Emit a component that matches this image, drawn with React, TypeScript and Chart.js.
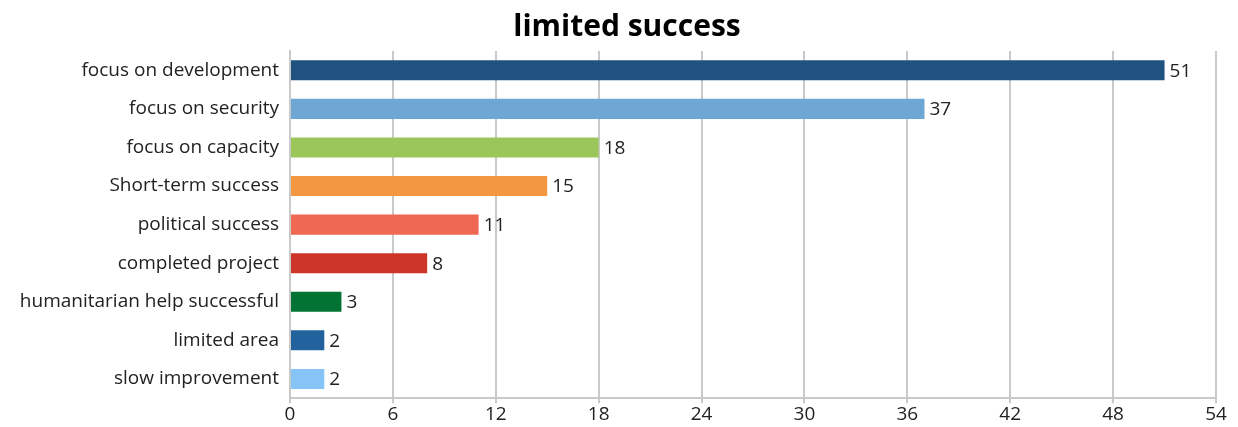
import React, { useEffect, useRef } from "react";
import { Chart, registerables } from "chart.js";

Chart.register(...registerables);

const categories = [
  "focus on development",
  "focus on security",
  "focus on capacity",
  "Short-term success",
  "political success",
  "completed project",
  "humanitarian help successful",
  "limited area",
  "slow improvement",
];
const values = [51, 37, 18, 15, 11, 8, 3, 2, 2];
const barColors = [
  "#1f527f",
  "#6ea6d4",
  "#9bc75a",
  "#f39841",
  "#ef6853",
  "#cc3527",
  "#027333",
  "#22629d",
  "#86c4f8",
];
const xTicks = [0, 6, 12, 18, 24, 30, 36, 42, 48, 54];

const FONT = "'Open Sans', 'Noto Sans', sans-serif";

const valueLabels = {
  id: "valueLabels",
  afterDatasetsDraw(chart: any) {
    const ctx = chart.ctx;
    const meta = chart.getDatasetMeta(0);
    ctx.save();
    ctx.font = `19px ${FONT}`;
    ctx.fillStyle = "#222";
    ctx.textBaseline = "middle";
    ctx.textAlign = "left";
    meta.data.forEach((bar: any, i: number) => {
      ctx.fillText(String(values[i]), bar.x + 5, bar.y + 1);
    });
    ctx.restore();
  },
};

export default function App() {
  const ref = useRef<HTMLCanvasElement>(null);
  useEffect(() => {
    const chart = new Chart(ref.current!, {
      type: "bar",
      data: {
        labels: categories,
        datasets: [
          {
            data: values,
            backgroundColor: barColors,
            borderWidth: 0,
            barPercentage: 0.52,
            categoryPercentage: 1,
          },
        ],
      },
      options: {
        indexAxis: "y",
        animation: false,
        responsive: false,
        maintainAspectRatio: false,
        layout: { padding: { top: 9, right: 0, bottom: 1, left: 16 } },
        plugins: {
          legend: { display: false },
          tooltip: { enabled: false },
          title: {
            display: true,
            text: "limited success",
            color: "#000",
            font: { family: FONT, size: 30, weight: "bold" },
            padding: { top: 0, bottom: 6 },
          },
        },
        scales: {
          x: {
            min: 0,
            max: 54,
            afterBuildTicks: (axis: any) => {
              axis.ticks = xTicks.map((v) => ({ value: v }));
            },
            grid: {
              color: "#c9c9c9",
              lineWidth: 2,
              drawTicks: true,
              tickLength: 5,
            },
            border: { display: true, color: "#c9c9c9", width: 2 },
            ticks: {
              color: "#222",
              font: { family: FONT, size: 19 },
              padding: 0,
              maxRotation: 0,
            },
          },
          y: {
            afterFit: (axis: any) => {
              axis.width = 274;
            },
            grid: { display: false, drawTicks: false },
            border: { display: true, color: "#c9c9c9", width: 2 },
            ticks: {
              color: "#222",
              font: { family: FONT, size: 19 },
              padding: 11,
            },
          },
          yRight: {
            type: "category",
            position: "right",
            labels: categories,
            afterFit: (axis: any) => {
              axis.width = 22;
            },
            grid: { display: false, drawTicks: false },
            border: { display: false },
            ticks: { display: false },
          },
        },
      },
      plugins: [valueLabels],
    });
    return () => chart.destroy();
  }, []);
  return (
    <div style={{ position: "absolute", left: 0, top: 0, width: 1238, height: 427 }}>
      <canvas ref={ref} width={1238} height={427} />
    </div>
  );
}
